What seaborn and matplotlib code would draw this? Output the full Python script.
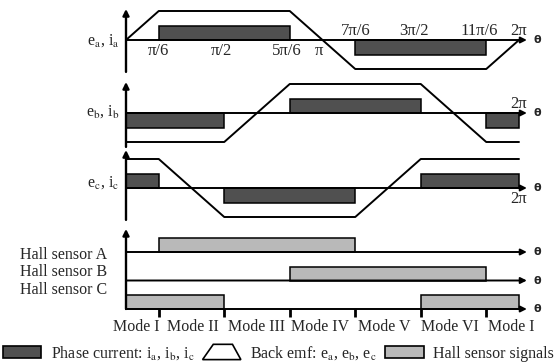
import matplotlib
matplotlib.use('Agg')
from matplotlib import pyplot as plt
from matplotlib.patches import Patch, Polygon
from matplotlib.legend_handler import HandlerPatch
import seaborn as sns

# angle is in units of pi/6, so 0..12 covers 0..2pi
emf_a_x = [0, 1, 5, 7, 11, 12]
emf_a_y = [0, 1, 1, -1, -1, 0]
emf_b_x = [0, 3, 5, 9, 11, 12]
emf_b_y = [-1, -1, 1, 1, -1, -1]
emf_c_x = [0, 1, 3, 7, 9, 12]
emf_c_y = [1, 1, -1, -1, 1, 1]

# phase current blocks: start, end, level
cur_a_start = [1, 7]
cur_a_end = [5, 11]
cur_a_level = [0.5, -0.5]
cur_b_start = [0, 5, 11]
cur_b_end = [3, 9, 12]
cur_b_level = [-0.5, 0.5, -0.5]
cur_c_start = [0, 3, 9]
cur_c_end = [1, 7, 12]
cur_c_level = [0.5, -0.5, 0.5]

# hall sensor high intervals
hall_a_start = [1]
hall_a_end = [7]
hall_b_start = [5]
hall_b_end = [11]
hall_c_start = [0, 9]
hall_c_end = [3, 12]
hall_names = ['Hall sensor A', 'Hall sensor B', 'Hall sensor C']

a_below_labels = ['π/6', 'π/2', '5π/6', 'π']
a_below_pos = [1, 2.9, 4.9, 5.9]
a_above_labels = ['7π/6', '3π/2', '11π/6', '2π']
a_above_pos = [7, 8.8, 10.8, 12]

mode_ticks = [1, 3, 5, 7, 9, 11]
mode_labels = ['Mode I', 'Mode II', 'Mode III', 'Mode IV', 'Mode V', 'Mode VI', 'Mode I']
mode_pos = [0.3, 2.05, 3.97, 5.92, 7.9, 9.9, 11.76]

dark = '#505050'
light = '#b9b9b9'
LW = 1.4

sns.set_theme(style='white')
plt.rcParams['font.family'] = ['Liberation Serif', 'DejaVu Sans']
plt.rcParams['mathtext.fontset'] = 'stix'

W, H = 557, 364
PX = 32.75  # pixels per pi/6
XL = (-126 / PX, (W - 126) / PX)

fig = plt.figure(figsize=(W / 100, H / 100), dpi=100)


def arrow(ax, x0, y0, x1, y1, lw=LW):
    ax.annotate('', xy=(x1, y1), xytext=(x0, y0),
                arrowprops=dict(arrowstyle='-|>', color='black', lw=lw,
                                mutation_scale=9, shrinkA=0, shrinkB=0))


def theta(ax, y):
    ax.text(12.45, y, 'θ', family='DejaVu Sans', fontweight='bold',
            fontsize=8, ha='left', va='center')


def phase_panel(base, ex, ey, cs, ce, cl, label, label_y, vtop, vbot):
    ax = fig.add_axes([0, 1 - (base + 38) / H, 1, 76 / H])
    ax.bar(cs, cl, width=[e - s for s, e in zip(cs, ce)], align='edge',
           color=dark, edgecolor='black', linewidth=1.1)
    sns.lineplot(x=ex, y=ey, ax=ax, color='black', lw=LW)
    arrow(ax, 0, 0, 12.24, 0)
    arrow(ax, 0, vbot, 0, vtop, lw=1.7)
    theta(ax, 0)
    ax.text(-0.2, label_y, label, fontsize=11.5, ha='right', va='center')
    ax.set_xlim(*XL)
    ax.set_ylim(-38 / 29, 38 / 29)
    ax.axis('off')
    return ax


ax_a = phase_panel(40, emf_a_x, emf_a_y, cur_a_start, cur_a_end, cur_a_level,
                   'e$_\\mathrm{a}$, i$_\\mathrm{a}$', -0.03, 1.07, -1.1)
for t, p in zip(a_below_labels, a_below_pos):
    ax_a.text(p, -0.1, t, fontsize=12, ha='center', va='top')
for t, p in zip(a_above_labels, a_above_pos):
    ax_a.text(p, 0.03, t, fontsize=12, ha='center', va='bottom')

ax_b = phase_panel(113, emf_b_x, emf_b_y, cur_b_start, cur_b_end, cur_b_level,
                   'e$_\\mathrm{b}$, i$_\\mathrm{b}$', 0.03, 1.07, -1.17)
ax_b.text(12, 0.03, '2π', fontsize=12, ha='center', va='bottom')

ax_c = phase_panel(188, emf_c_x, emf_c_y, cur_c_start, cur_c_end, cur_c_level,
                   'e$_\\mathrm{c}$, i$_\\mathrm{c}$', 0.17, 1.31, -1.1)
ax_c.text(12, -0.12, '2π', fontsize=12, ha='center', va='top')

# hall sensor panel, rows spaced 28.5 px
ax_h = fig.add_axes([0, 1 - 340 / H, 1, 115 / H])
bar_h = 14 / 28.5
for off, hs, he in [(2, hall_a_start, hall_a_end), (1, hall_b_start, hall_b_end),
                    (0, hall_c_start, hall_c_end)]:
    ax_h.bar(hs, bar_h, width=[e - s for s, e in zip(hs, he)], bottom=off,
             align='edge', color=light, edgecolor='black', linewidth=1.1)
    arrow(ax_h, 0, off, 12.24, off)
    theta(ax_h, off)
arrow(ax_h, 0, 0, 0, 2.81, lw=1.7)
ax_h.vlines(mode_ticks, -0.28, 0, color='black', lw=2)
for name, y in zip(hall_names, [1.895, 1.30, 0.667]):
    ax_h.text(-0.58, y, name, fontsize=11.5, ha='right', va='center')
for t, p in zip(mode_labels, mode_pos):
    ax_h.text(p, -0.63, t, fontsize=11.5, ha='center', va='center')
ax_h.set_xlim(*XL)
ax_h.set_ylim((309 - 340) / 28.5, (309 - 225) / 28.5)
ax_h.axis('off')


def make_trap(legend, orig_handle, xdescent, ydescent, width, height, fontsize):
    x0, y0 = -xdescent, -ydescent - 0.1 * height
    h = 1.2 * height
    return Polygon([[x0, y0], [x0 + width, y0], [x0 + 0.78 * width, y0 + h],
                    [x0 + 0.28 * width, y0 + h]], closed=True)


h_cur = Patch(facecolor=dark, edgecolor='black', linewidth=1.2,
              label='Phase current: i$_\\mathrm{a}$, i$_\\mathrm{b}$, i$_\\mathrm{c}$')
h_emf = Patch(facecolor='white', edgecolor='black', linewidth=1.2,
              label='Back emf: e$_\\mathrm{a}$, e$_\\mathrm{b}$, e$_\\mathrm{c}$')
h_hall = Patch(facecolor=light, edgecolor='black', linewidth=1.2,
               label='Hall sensor signals')
fig.legend(handles=[h_cur, h_emf, h_hall],
           handler_map={h_emf: HandlerPatch(patch_func=make_trap)},
           loc='center left', bbox_to_anchor=(3 / W, 1 - 353 / H),
           ncol=3, frameon=False, fontsize=11.5, borderpad=0, borderaxespad=0,
           handlelength=2.4, handleheight=0.85, handletextpad=0.6,
           columnspacing=0.5)

fig.savefig('out.png', dpi=100)
